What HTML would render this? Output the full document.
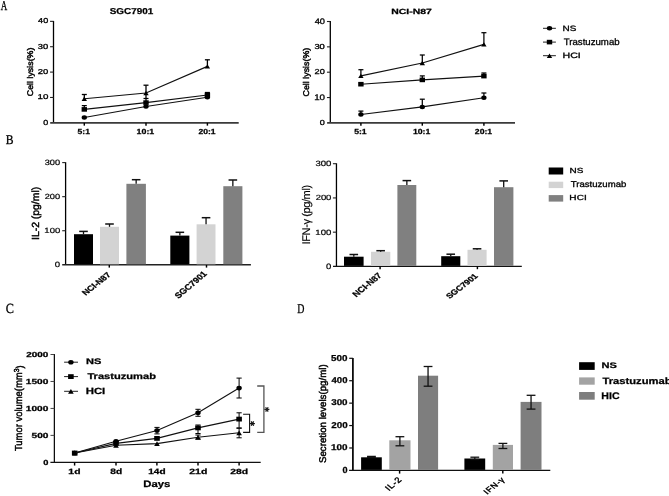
<!DOCTYPE html>
<html><head><meta charset="utf-8"><title>Figure</title><style>
html,body{margin:0;padding:0;background:#fff;}
svg{display:block;filter:grayscale(1);}
text{text-rendering:geometricPrecision;}
.ss{font-family:"Liberation Sans", sans-serif;}
.sr{font-family:"Liberation Serif", serif;}
</style></head><body>
<svg width="669" height="496" viewBox="0 0 669 496">
<rect x="0" y="0" width="669" height="496" fill="#fff"/>
<line x1="53.50" y1="20.95" x2="53.50" y2="122.85" stroke="#000" stroke-width="1.3"/>
<line x1="50.05" y1="21.35" x2="53.50" y2="21.35" stroke="#222" stroke-width="1.1"/>
<line x1="50.05" y1="46.72" x2="53.50" y2="46.72" stroke="#222" stroke-width="1.1"/>
<line x1="50.05" y1="72.10" x2="53.50" y2="72.10" stroke="#222" stroke-width="1.1"/>
<line x1="50.05" y1="97.47" x2="53.50" y2="97.47" stroke="#222" stroke-width="1.1"/>
<line x1="50.20" y1="122.85" x2="238.70" y2="122.85" stroke="#3a3a3a" stroke-width="1.6"/>
<line x1="84.30" y1="122.85" x2="84.30" y2="125.65" stroke="#000" stroke-width="1.45"/>
<line x1="146.00" y1="122.85" x2="146.00" y2="125.65" stroke="#000" stroke-width="1.45"/>
<line x1="207.40" y1="122.85" x2="207.40" y2="125.65" stroke="#000" stroke-width="1.45"/>
<path d="M84.30,117.45 L146.00,106.50 L207.40,97.20" fill="none" stroke="#111" stroke-width="1.15"/>
<ellipse cx="84.30" cy="117.45" rx="2.65" ry="2.25" fill="#000"/>
<ellipse cx="146.00" cy="106.50" rx="2.65" ry="2.25" fill="#000"/>
<ellipse cx="207.40" cy="97.20" rx="2.65" ry="2.25" fill="#000"/>
<path d="M84.30,109.40 L146.00,102.60 L207.40,95.00" fill="none" stroke="#111" stroke-width="1.15"/>
<line x1="84.30" y1="109.40" x2="84.30" y2="105.60" stroke="#000" stroke-width="1.25"/>
<line x1="81.80" y1="105.60" x2="86.80" y2="105.60" stroke="#000" stroke-width="1.25"/>
<line x1="146.00" y1="102.60" x2="146.00" y2="98.50" stroke="#000" stroke-width="1.25"/>
<line x1="143.50" y1="98.50" x2="148.50" y2="98.50" stroke="#000" stroke-width="1.25"/>
<line x1="207.40" y1="95.00" x2="207.40" y2="92.50" stroke="#000" stroke-width="1.25"/>
<line x1="204.90" y1="92.50" x2="209.90" y2="92.50" stroke="#000" stroke-width="1.25"/>
<rect x="81.60" y="107.10" width="5.40" height="4.60" fill="#000"/>
<rect x="143.30" y="100.30" width="5.40" height="4.60" fill="#000"/>
<rect x="204.70" y="92.70" width="5.40" height="4.60" fill="#000"/>
<line x1="146.00" y1="93.00" x2="146.00" y2="98.60" stroke="#000" stroke-width="1.3"/>
<path d="M84.30,98.80 L146.00,93.00 L207.40,66.40" fill="none" stroke="#111" stroke-width="1.15"/>
<line x1="84.30" y1="98.80" x2="84.30" y2="94.50" stroke="#000" stroke-width="1.3"/>
<line x1="81.80" y1="94.50" x2="86.80" y2="94.50" stroke="#000" stroke-width="1.3"/>
<line x1="146.00" y1="93.00" x2="146.00" y2="85.20" stroke="#000" stroke-width="1.3"/>
<line x1="143.50" y1="85.20" x2="148.50" y2="85.20" stroke="#000" stroke-width="1.3"/>
<line x1="207.40" y1="66.40" x2="207.40" y2="59.80" stroke="#000" stroke-width="1.3"/>
<line x1="204.90" y1="59.80" x2="209.90" y2="59.80" stroke="#000" stroke-width="1.3"/>
<path d="M81.60,101.00 L87.00,101.00 L84.30,96.60 Z" fill="#000"/>
<path d="M143.30,95.20 L148.70,95.20 L146.00,90.80 Z" fill="#000"/>
<path d="M204.70,68.60 L210.10,68.60 L207.40,64.20 Z" fill="#000"/>
<line x1="330.30" y1="21.10" x2="330.30" y2="122.90" stroke="#000" stroke-width="1.3"/>
<line x1="326.95" y1="21.50" x2="330.30" y2="21.50" stroke="#222" stroke-width="1.1"/>
<line x1="326.95" y1="46.85" x2="330.30" y2="46.85" stroke="#222" stroke-width="1.1"/>
<line x1="326.95" y1="72.20" x2="330.30" y2="72.20" stroke="#222" stroke-width="1.1"/>
<line x1="326.95" y1="97.55" x2="330.30" y2="97.55" stroke="#222" stroke-width="1.1"/>
<line x1="327.10" y1="122.90" x2="515.00" y2="122.90" stroke="#3a3a3a" stroke-width="1.6"/>
<line x1="360.90" y1="122.90" x2="360.90" y2="125.70" stroke="#000" stroke-width="1.45"/>
<line x1="422.30" y1="122.90" x2="422.30" y2="125.70" stroke="#000" stroke-width="1.45"/>
<line x1="483.90" y1="122.90" x2="483.90" y2="125.70" stroke="#000" stroke-width="1.45"/>
<path d="M360.90,114.50 L422.30,106.90 L483.90,97.80" fill="none" stroke="#111" stroke-width="1.15"/>
<line x1="360.90" y1="114.50" x2="360.90" y2="111.10" stroke="#000" stroke-width="1.25"/>
<line x1="358.40" y1="111.10" x2="363.40" y2="111.10" stroke="#000" stroke-width="1.25"/>
<line x1="422.30" y1="106.90" x2="422.30" y2="99.20" stroke="#000" stroke-width="1.25"/>
<line x1="419.80" y1="99.20" x2="424.80" y2="99.20" stroke="#000" stroke-width="1.25"/>
<line x1="483.90" y1="97.80" x2="483.90" y2="93.00" stroke="#000" stroke-width="1.25"/>
<line x1="481.40" y1="93.00" x2="486.40" y2="93.00" stroke="#000" stroke-width="1.25"/>
<ellipse cx="360.90" cy="114.50" rx="2.65" ry="2.25" fill="#000"/>
<ellipse cx="422.30" cy="106.90" rx="2.65" ry="2.25" fill="#000"/>
<ellipse cx="483.90" cy="97.80" rx="2.65" ry="2.25" fill="#000"/>
<path d="M360.90,84.20 L422.30,79.90 L483.90,76.10" fill="none" stroke="#111" stroke-width="1.15"/>
<line x1="422.30" y1="79.90" x2="422.30" y2="75.90" stroke="#000" stroke-width="1.25"/>
<line x1="419.80" y1="75.90" x2="424.80" y2="75.90" stroke="#000" stroke-width="1.25"/>
<line x1="483.90" y1="76.10" x2="483.90" y2="73.00" stroke="#000" stroke-width="1.25"/>
<line x1="481.40" y1="73.00" x2="486.40" y2="73.00" stroke="#000" stroke-width="1.25"/>
<rect x="358.20" y="81.90" width="5.40" height="4.60" fill="#000"/>
<rect x="419.60" y="77.60" width="5.40" height="4.60" fill="#000"/>
<rect x="481.20" y="73.80" width="5.40" height="4.60" fill="#000"/>
<path d="M360.90,75.90 L422.30,63.00 L483.90,44.40" fill="none" stroke="#111" stroke-width="1.15"/>
<line x1="360.90" y1="75.90" x2="360.90" y2="69.70" stroke="#000" stroke-width="1.25"/>
<line x1="358.40" y1="69.70" x2="363.40" y2="69.70" stroke="#000" stroke-width="1.25"/>
<line x1="422.30" y1="63.00" x2="422.30" y2="55.00" stroke="#000" stroke-width="1.25"/>
<line x1="419.80" y1="55.00" x2="424.80" y2="55.00" stroke="#000" stroke-width="1.25"/>
<line x1="483.90" y1="44.40" x2="483.90" y2="32.70" stroke="#000" stroke-width="1.25"/>
<line x1="481.40" y1="32.70" x2="486.40" y2="32.70" stroke="#000" stroke-width="1.25"/>
<path d="M358.20,78.10 L363.60,78.10 L360.90,73.70 Z" fill="#000"/>
<path d="M419.60,65.20 L425.00,65.20 L422.30,60.80 Z" fill="#000"/>
<path d="M481.20,46.60 L486.60,46.60 L483.90,42.20 Z" fill="#000"/>
<line x1="543.00" y1="28.30" x2="555.90" y2="28.30" stroke="#222" stroke-width="1.0"/>
<ellipse cx="549.50" cy="28.30" rx="2.65" ry="2.25" fill="#000"/>
<line x1="543.00" y1="42.10" x2="555.90" y2="42.10" stroke="#222" stroke-width="1.0"/>
<rect x="546.80" y="39.80" width="5.40" height="4.60" fill="#000"/>
<line x1="543.00" y1="55.70" x2="555.90" y2="55.70" stroke="#222" stroke-width="1.0"/>
<path d="M546.80,57.90 L552.20,57.90 L549.50,53.50 Z" fill="#000"/>
<line x1="65.60" y1="162.20" x2="65.60" y2="264.80" stroke="#000" stroke-width="1.3"/>
<line x1="62.20" y1="162.60" x2="65.60" y2="162.60" stroke="#222" stroke-width="1.1"/>
<line x1="62.20" y1="196.67" x2="65.60" y2="196.67" stroke="#222" stroke-width="1.1"/>
<line x1="62.20" y1="230.73" x2="65.60" y2="230.73" stroke="#222" stroke-width="1.1"/>
<line x1="62.20" y1="264.80" x2="250.90" y2="264.80" stroke="#222" stroke-width="1.5"/>
<line x1="109.30" y1="264.80" x2="109.30" y2="267.60" stroke="#000" stroke-width="1.45"/>
<line x1="206.50" y1="264.80" x2="206.50" y2="267.60" stroke="#000" stroke-width="1.45"/>
<rect x="74.00" y="234.20" width="19.00" height="30.10" fill="#000"/>
<line x1="83.50" y1="234.20" x2="83.50" y2="231.40" stroke="#111" stroke-width="1.3"/>
<line x1="79.20" y1="231.40" x2="87.80" y2="231.40" stroke="#111" stroke-width="1.5"/>
<rect x="100.00" y="226.80" width="19.00" height="37.50" fill="#d3d3d3"/>
<line x1="109.50" y1="226.80" x2="109.50" y2="224.00" stroke="#111" stroke-width="1.3"/>
<line x1="105.20" y1="224.00" x2="113.80" y2="224.00" stroke="#111" stroke-width="1.5"/>
<rect x="126.40" y="183.80" width="19.50" height="80.50" fill="#808080"/>
<line x1="136.15" y1="183.80" x2="136.15" y2="179.70" stroke="#111" stroke-width="1.3"/>
<line x1="131.85" y1="179.70" x2="140.45" y2="179.70" stroke="#111" stroke-width="1.5"/>
<rect x="170.30" y="235.60" width="19.10" height="28.70" fill="#000"/>
<line x1="179.85" y1="235.60" x2="179.85" y2="232.30" stroke="#111" stroke-width="1.3"/>
<line x1="175.55" y1="232.30" x2="184.15" y2="232.30" stroke="#111" stroke-width="1.5"/>
<rect x="196.60" y="224.30" width="18.90" height="40.00" fill="#d3d3d3"/>
<line x1="206.05" y1="224.30" x2="206.05" y2="217.70" stroke="#111" stroke-width="1.3"/>
<line x1="201.75" y1="217.70" x2="210.35" y2="217.70" stroke="#111" stroke-width="1.5"/>
<rect x="223.30" y="186.20" width="19.10" height="78.10" fill="#808080"/>
<line x1="232.85" y1="186.20" x2="232.85" y2="180.00" stroke="#111" stroke-width="1.3"/>
<line x1="228.55" y1="180.00" x2="237.15" y2="180.00" stroke="#111" stroke-width="1.5"/>
<line x1="336.45" y1="163.30" x2="336.45" y2="266.40" stroke="#000" stroke-width="1.3"/>
<line x1="332.90" y1="163.70" x2="336.45" y2="163.70" stroke="#222" stroke-width="1.1"/>
<line x1="332.90" y1="197.93" x2="336.45" y2="197.93" stroke="#222" stroke-width="1.1"/>
<line x1="332.90" y1="232.17" x2="336.45" y2="232.17" stroke="#222" stroke-width="1.1"/>
<line x1="333.00" y1="266.40" x2="521.80" y2="266.40" stroke="#111" stroke-width="1.3"/>
<line x1="380.10" y1="266.40" x2="380.10" y2="269.20" stroke="#000" stroke-width="1.45"/>
<line x1="477.40" y1="266.40" x2="477.40" y2="269.20" stroke="#000" stroke-width="1.45"/>
<rect x="344.00" y="256.70" width="19.60" height="9.20" fill="#000"/>
<line x1="353.80" y1="256.70" x2="353.80" y2="254.50" stroke="#111" stroke-width="1.3"/>
<line x1="349.50" y1="254.50" x2="358.10" y2="254.50" stroke="#111" stroke-width="1.5"/>
<rect x="371.00" y="251.80" width="19.30" height="14.10" fill="#d3d3d3"/>
<line x1="380.65" y1="251.80" x2="380.65" y2="250.70" stroke="#111" stroke-width="1.3"/>
<line x1="376.35" y1="250.70" x2="384.95" y2="250.70" stroke="#111" stroke-width="1.5"/>
<rect x="397.40" y="185.00" width="18.90" height="80.90" fill="#808080"/>
<line x1="406.85" y1="185.00" x2="406.85" y2="180.60" stroke="#111" stroke-width="1.3"/>
<line x1="402.55" y1="180.60" x2="411.15" y2="180.60" stroke="#111" stroke-width="1.5"/>
<rect x="441.20" y="256.20" width="19.10" height="9.70" fill="#000"/>
<line x1="450.75" y1="256.20" x2="450.75" y2="254.20" stroke="#111" stroke-width="1.3"/>
<line x1="446.45" y1="254.20" x2="455.05" y2="254.20" stroke="#111" stroke-width="1.5"/>
<rect x="467.50" y="249.80" width="19.10" height="16.10" fill="#d3d3d3"/>
<line x1="477.05" y1="249.80" x2="477.05" y2="248.80" stroke="#111" stroke-width="1.3"/>
<line x1="472.75" y1="248.80" x2="481.35" y2="248.80" stroke="#111" stroke-width="1.5"/>
<rect x="494.00" y="187.20" width="19.40" height="78.70" fill="#808080"/>
<line x1="503.70" y1="187.20" x2="503.70" y2="180.90" stroke="#111" stroke-width="1.3"/>
<line x1="499.40" y1="180.90" x2="508.00" y2="180.90" stroke="#111" stroke-width="1.5"/>
<rect x="548.70" y="167.50" width="14.50" height="7.00" fill="#000"/>
<rect x="548.70" y="181.70" width="14.50" height="6.40" fill="#d3d3d3"/>
<rect x="548.70" y="195.10" width="14.50" height="6.50" fill="#808080"/>
<line x1="54.35" y1="354.10" x2="54.35" y2="462.35" stroke="#000" stroke-width="1.2"/>
<line x1="50.50" y1="354.50" x2="54.35" y2="354.50" stroke="#444" stroke-width="1.0"/>
<line x1="50.50" y1="381.46" x2="54.35" y2="381.46" stroke="#444" stroke-width="1.0"/>
<line x1="50.50" y1="408.43" x2="54.35" y2="408.43" stroke="#444" stroke-width="1.0"/>
<line x1="50.50" y1="435.39" x2="54.35" y2="435.39" stroke="#444" stroke-width="1.0"/>
<line x1="50.40" y1="462.35" x2="260.70" y2="462.35" stroke="#111" stroke-width="1.2"/>
<line x1="74.60" y1="462.35" x2="74.60" y2="465.55" stroke="#000" stroke-width="1.45"/>
<line x1="116.00" y1="462.35" x2="116.00" y2="465.55" stroke="#000" stroke-width="1.45"/>
<line x1="156.90" y1="462.35" x2="156.90" y2="465.55" stroke="#000" stroke-width="1.45"/>
<line x1="198.00" y1="462.35" x2="198.00" y2="465.55" stroke="#000" stroke-width="1.45"/>
<line x1="239.10" y1="462.35" x2="239.10" y2="465.55" stroke="#000" stroke-width="1.45"/>
<path d="M74.70,453.00 L116.00,441.30 L157.00,430.50 L198.00,412.80 L239.10,388.10" fill="none" stroke="#111" stroke-width="1.15"/>
<line x1="157.00" y1="427.40" x2="157.00" y2="433.90" stroke="#000" stroke-width="1.0"/>
<line x1="154.40" y1="427.40" x2="159.60" y2="427.40" stroke="#000" stroke-width="1.0"/>
<line x1="154.40" y1="433.90" x2="159.60" y2="433.90" stroke="#000" stroke-width="1.0"/>
<line x1="198.00" y1="409.30" x2="198.00" y2="416.30" stroke="#000" stroke-width="1.0"/>
<line x1="195.40" y1="409.30" x2="200.60" y2="409.30" stroke="#000" stroke-width="1.0"/>
<line x1="195.40" y1="416.30" x2="200.60" y2="416.30" stroke="#000" stroke-width="1.0"/>
<line x1="239.10" y1="378.10" x2="239.10" y2="398.00" stroke="#000" stroke-width="1.0"/>
<line x1="236.50" y1="378.10" x2="241.70" y2="378.10" stroke="#000" stroke-width="1.0"/>
<line x1="236.50" y1="398.00" x2="241.70" y2="398.00" stroke="#000" stroke-width="1.0"/>
<ellipse cx="74.70" cy="453.00" rx="2.70" ry="2.30" fill="#000"/>
<ellipse cx="116.00" cy="441.30" rx="2.70" ry="2.30" fill="#000"/>
<ellipse cx="157.00" cy="430.50" rx="2.70" ry="2.30" fill="#000"/>
<ellipse cx="198.00" cy="412.80" rx="2.70" ry="2.30" fill="#000"/>
<ellipse cx="239.10" cy="388.10" rx="2.70" ry="2.30" fill="#000"/>
<path d="M74.70,453.00 L116.00,443.40 L157.00,438.40 L198.00,427.90 L239.10,419.10" fill="none" stroke="#111" stroke-width="1.15"/>
<line x1="198.00" y1="425.00" x2="198.00" y2="433.50" stroke="#000" stroke-width="1.0"/>
<line x1="195.40" y1="425.00" x2="200.60" y2="425.00" stroke="#000" stroke-width="1.0"/>
<line x1="195.40" y1="433.50" x2="200.60" y2="433.50" stroke="#000" stroke-width="1.0"/>
<line x1="239.10" y1="412.80" x2="239.10" y2="427.90" stroke="#000" stroke-width="1.0"/>
<line x1="236.50" y1="412.80" x2="241.70" y2="412.80" stroke="#000" stroke-width="1.0"/>
<line x1="236.50" y1="427.90" x2="241.70" y2="427.90" stroke="#000" stroke-width="1.0"/>
<rect x="71.90" y="450.60" width="5.60" height="4.80" fill="#000"/>
<rect x="113.20" y="441.00" width="5.60" height="4.80" fill="#000"/>
<rect x="154.20" y="436.00" width="5.60" height="4.80" fill="#000"/>
<rect x="195.20" y="425.50" width="5.60" height="4.80" fill="#000"/>
<rect x="236.30" y="416.70" width="5.60" height="4.80" fill="#000"/>
<path d="M74.70,453.00 L116.00,445.30 L157.00,443.60 L198.00,437.30 L239.10,432.80" fill="none" stroke="#111" stroke-width="1.15"/>
<line x1="198.00" y1="435.00" x2="198.00" y2="439.00" stroke="#000" stroke-width="1.0"/>
<line x1="195.40" y1="435.00" x2="200.60" y2="435.00" stroke="#000" stroke-width="1.0"/>
<line x1="195.40" y1="439.00" x2="200.60" y2="439.00" stroke="#000" stroke-width="1.0"/>
<line x1="239.10" y1="428.30" x2="239.10" y2="437.80" stroke="#000" stroke-width="1.0"/>
<line x1="236.50" y1="428.30" x2="241.70" y2="428.30" stroke="#000" stroke-width="1.0"/>
<line x1="236.50" y1="437.80" x2="241.70" y2="437.80" stroke="#000" stroke-width="1.0"/>
<path d="M71.90,455.40 L77.50,455.40 L74.70,450.60 Z" fill="#000"/>
<path d="M113.20,447.70 L118.80,447.70 L116.00,442.90 Z" fill="#000"/>
<path d="M154.20,446.00 L159.80,446.00 L157.00,441.20 Z" fill="#000"/>
<path d="M195.20,439.70 L200.80,439.70 L198.00,434.90 Z" fill="#000"/>
<path d="M236.30,435.20 L241.90,435.20 L239.10,430.40 Z" fill="#000"/>
<line x1="64.10" y1="362.20" x2="78.00" y2="362.20" stroke="#222" stroke-width="1.0"/>
<ellipse cx="70.90" cy="362.20" rx="2.70" ry="2.30" fill="#000"/>
<line x1="64.10" y1="376.60" x2="78.00" y2="376.60" stroke="#222" stroke-width="1.0"/>
<rect x="68.10" y="374.20" width="5.60" height="4.80" fill="#000"/>
<line x1="64.10" y1="391.30" x2="78.00" y2="391.30" stroke="#222" stroke-width="1.0"/>
<path d="M68.10,393.70 L73.70,393.70 L70.90,388.90 Z" fill="#000"/>
<path d="M257.2,386.0 H263.9 V432.4 H257.2" fill="none" stroke="#555" stroke-width="1.3"/>
<path d="M243.1,414.3 H249.6 V432.4 H243.1" fill="none" stroke="#111" stroke-width="1.1"/>
<line x1="264.40" y1="409.40" x2="269.40" y2="409.40" stroke="#222" stroke-width="1.25"/>
<line x1="265.65" y1="407.23" x2="268.15" y2="411.57" stroke="#222" stroke-width="1.25"/>
<line x1="268.15" y1="407.23" x2="265.65" y2="411.57" stroke="#222" stroke-width="1.25"/>
<line x1="249.90" y1="423.60" x2="254.90" y2="423.60" stroke="#111" stroke-width="1.25"/>
<line x1="251.15" y1="421.43" x2="253.65" y2="425.77" stroke="#111" stroke-width="1.25"/>
<line x1="253.65" y1="421.43" x2="251.15" y2="425.77" stroke="#111" stroke-width="1.25"/>
<line x1="352.90" y1="357.90" x2="352.90" y2="470.40" stroke="#000" stroke-width="1.7"/>
<line x1="349.20" y1="358.30" x2="352.90" y2="358.30" stroke="#111" stroke-width="1.2"/>
<line x1="349.20" y1="380.72" x2="352.90" y2="380.72" stroke="#111" stroke-width="1.2"/>
<line x1="349.20" y1="403.14" x2="352.90" y2="403.14" stroke="#111" stroke-width="1.2"/>
<line x1="349.20" y1="425.56" x2="352.90" y2="425.56" stroke="#111" stroke-width="1.2"/>
<line x1="349.20" y1="447.98" x2="352.90" y2="447.98" stroke="#111" stroke-width="1.2"/>
<line x1="349.10" y1="470.40" x2="550.30" y2="470.40" stroke="#111" stroke-width="1.3"/>
<line x1="399.60" y1="470.40" x2="399.60" y2="473.60" stroke="#000" stroke-width="1.45"/>
<line x1="502.80" y1="470.40" x2="502.80" y2="473.60" stroke="#000" stroke-width="1.45"/>
<rect x="361.10" y="457.30" width="20.70" height="12.60" fill="#000"/>
<line x1="371.45" y1="456.40" x2="371.45" y2="457.60" stroke="#111" stroke-width="1.3"/>
<line x1="367.05" y1="456.40" x2="375.85" y2="456.40" stroke="#111" stroke-width="1.3"/>
<line x1="367.05" y1="457.60" x2="375.85" y2="457.60" stroke="#111" stroke-width="1.3"/>
<rect x="389.30" y="440.30" width="21.20" height="29.60" fill="#a3a3a3"/>
<line x1="399.90" y1="436.70" x2="399.90" y2="445.80" stroke="#111" stroke-width="1.3"/>
<line x1="395.50" y1="436.70" x2="404.30" y2="436.70" stroke="#111" stroke-width="1.3"/>
<line x1="395.50" y1="445.80" x2="404.30" y2="445.80" stroke="#111" stroke-width="1.3"/>
<rect x="418.00" y="375.70" width="20.10" height="94.20" fill="#7e7e7e"/>
<line x1="428.05" y1="366.50" x2="428.05" y2="386.20" stroke="#111" stroke-width="1.3"/>
<line x1="423.65" y1="366.50" x2="432.45" y2="366.50" stroke="#111" stroke-width="1.3"/>
<line x1="423.65" y1="386.20" x2="432.45" y2="386.20" stroke="#111" stroke-width="1.3"/>
<rect x="464.40" y="458.50" width="20.80" height="11.40" fill="#000"/>
<line x1="474.80" y1="457.20" x2="474.80" y2="459.50" stroke="#111" stroke-width="1.3"/>
<line x1="470.40" y1="457.20" x2="479.20" y2="457.20" stroke="#111" stroke-width="1.3"/>
<line x1="470.40" y1="459.50" x2="479.20" y2="459.50" stroke="#111" stroke-width="1.3"/>
<rect x="492.80" y="444.90" width="20.20" height="25.00" fill="#a3a3a3"/>
<line x1="502.90" y1="443.40" x2="502.90" y2="448.50" stroke="#111" stroke-width="1.3"/>
<line x1="498.50" y1="443.40" x2="507.30" y2="443.40" stroke="#111" stroke-width="1.3"/>
<line x1="498.50" y1="448.50" x2="507.30" y2="448.50" stroke="#111" stroke-width="1.3"/>
<rect x="520.60" y="401.90" width="20.90" height="68.00" fill="#7e7e7e"/>
<line x1="531.05" y1="395.30" x2="531.05" y2="409.10" stroke="#111" stroke-width="1.3"/>
<line x1="526.65" y1="395.30" x2="535.45" y2="395.30" stroke="#111" stroke-width="1.3"/>
<line x1="526.65" y1="409.10" x2="535.45" y2="409.10" stroke="#111" stroke-width="1.3"/>
<rect x="579.10" y="362.20" width="15.60" height="7.70" fill="#000"/>
<rect x="579.10" y="377.40" width="15.60" height="7.30" fill="#a3a3a3"/>
<rect x="579.10" y="392.00" width="15.60" height="7.70" fill="#7e7e7e"/>
<text class="sr" x="0.780" y="10.050" font-size="13.491" stroke="#000" stroke-width="0.3" textLength="6.495" lengthAdjust="spacingAndGlyphs">A</text>
<text class="sr" x="5.730" y="143.900" font-size="13.265" stroke="#000" stroke-width="0.3" textLength="7.794" lengthAdjust="spacingAndGlyphs">B</text>
<text class="sr" x="5.730" y="312.990" font-size="13.952" stroke="#000" stroke-width="0.3" textLength="8.171" lengthAdjust="spacingAndGlyphs">C</text>
<text class="sr" x="297.350" y="312.950" font-size="13.323" stroke="#000" stroke-width="0.3" textLength="7.175" lengthAdjust="spacingAndGlyphs">D</text>
<text class="ss" x="109.720" y="14.050" font-size="8.552" font-weight="bold" stroke="#000" stroke-width="0.25" textLength="43.509" lengthAdjust="spacingAndGlyphs">SGC7901</text>
<text class="ss" x="391.290" y="13.900" font-size="7.482" font-weight="bold" stroke="#000" stroke-width="0.25" textLength="40.568" lengthAdjust="spacingAndGlyphs">NCI-N87</text>
<text class="ss" x="38.140" y="23.330" font-size="7.194" stroke="#000" stroke-width="0.3" textLength="10.060" lengthAdjust="spacingAndGlyphs">40</text>
<text class="ss" x="37.740" y="48.600" font-size="7.254" stroke="#000" stroke-width="0.3" textLength="10.403" lengthAdjust="spacingAndGlyphs">30</text>
<text class="ss" x="37.860" y="74.450" font-size="7.010" stroke="#000" stroke-width="0.3" textLength="10.496" lengthAdjust="spacingAndGlyphs">20</text>
<text class="ss" x="37.470" y="99.135" font-size="6.973" stroke="#000" stroke-width="0.3" textLength="10.873" lengthAdjust="spacingAndGlyphs">10</text>
<text class="ss" x="43.200" y="124.750" font-size="7.368" stroke="#000" stroke-width="0.3" textLength="4.960" lengthAdjust="spacingAndGlyphs">0</text>
<text class="ss" x="314.680" y="24.090" font-size="7.913" stroke="#000" stroke-width="0.3" textLength="10.303" lengthAdjust="spacingAndGlyphs">40</text>
<text class="ss" x="314.400" y="49.320" font-size="7.262" stroke="#000" stroke-width="0.3" textLength="10.411" lengthAdjust="spacingAndGlyphs">30</text>
<text class="ss" x="314.500" y="74.480" font-size="7.159" stroke="#000" stroke-width="0.3" textLength="10.274" lengthAdjust="spacingAndGlyphs">20</text>
<text class="ss" x="314.190" y="99.840" font-size="8.000" stroke="#000" stroke-width="0.3" textLength="10.877" lengthAdjust="spacingAndGlyphs">10</text>
<text class="ss" x="319.710" y="125.060" font-size="7.242" stroke="#000" stroke-width="0.3" textLength="5.053" lengthAdjust="spacingAndGlyphs">0</text>
<text class="ss" x="44.710" y="164.920" font-size="7.617" stroke="#000" stroke-width="0.2" textLength="15.433" lengthAdjust="spacingAndGlyphs">300</text>
<text class="ss" x="44.700" y="198.940" font-size="7.486" stroke="#000" stroke-width="0.2" textLength="15.471" lengthAdjust="spacingAndGlyphs">200</text>
<text class="ss" x="44.370" y="233.000" font-size="7.516" stroke="#000" stroke-width="0.2" textLength="15.825" lengthAdjust="spacingAndGlyphs">100</text>
<text class="ss" x="54.860" y="266.940" font-size="7.694" stroke="#000" stroke-width="0.2" textLength="5.359" lengthAdjust="spacingAndGlyphs">0</text>
<text class="ss" x="315.430" y="165.650" font-size="7.651" stroke="#000" stroke-width="0.2" textLength="15.979" lengthAdjust="spacingAndGlyphs">300</text>
<text class="ss" x="315.650" y="200.257" font-size="7.539" stroke="#000" stroke-width="0.2" textLength="15.727" lengthAdjust="spacingAndGlyphs">200</text>
<text class="ss" x="315.370" y="234.733" font-size="7.678" stroke="#000" stroke-width="0.2" textLength="15.997" lengthAdjust="spacingAndGlyphs">100</text>
<text class="ss" x="326.000" y="268.680" font-size="7.822" stroke="#000" stroke-width="0.2" textLength="5.299" lengthAdjust="spacingAndGlyphs">0</text>
<text class="ss" x="26.190" y="356.770" font-size="7.350" font-weight="bold" stroke="#000" stroke-width="0.25" textLength="22.126" lengthAdjust="spacingAndGlyphs">2000</text>
<text class="ss" x="25.860" y="383.832" font-size="7.316" font-weight="bold" stroke="#000" stroke-width="0.25" textLength="22.502" lengthAdjust="spacingAndGlyphs">1500</text>
<text class="ss" x="25.820" y="411.410" font-size="7.340" font-weight="bold" stroke="#000" stroke-width="0.25" textLength="22.481" lengthAdjust="spacingAndGlyphs">1000</text>
<text class="ss" x="31.580" y="438.210" font-size="7.381" font-weight="bold" stroke="#000" stroke-width="0.25" textLength="16.926" lengthAdjust="spacingAndGlyphs">500</text>
<text class="ss" x="43.320" y="464.960" font-size="7.392" font-weight="bold" stroke="#000" stroke-width="0.25" textLength="5.176" lengthAdjust="spacingAndGlyphs">0</text>
<text class="ss" x="331.130" y="360.590" font-size="8.585" font-weight="bold" stroke="#000" stroke-width="0.25" textLength="16.477" lengthAdjust="spacingAndGlyphs">500</text>
<text class="ss" x="331.520" y="382.780" font-size="8.526" font-weight="bold" stroke="#000" stroke-width="0.25" textLength="15.945" lengthAdjust="spacingAndGlyphs">400</text>
<text class="ss" x="331.200" y="405.140" font-size="8.371" font-weight="bold" stroke="#000" stroke-width="0.25" textLength="16.378" lengthAdjust="spacingAndGlyphs">300</text>
<text class="ss" x="331.390" y="427.730" font-size="8.498" font-weight="bold" stroke="#000" stroke-width="0.25" textLength="16.356" lengthAdjust="spacingAndGlyphs">200</text>
<text class="ss" x="331.060" y="450.220" font-size="8.373" font-weight="bold" stroke="#000" stroke-width="0.25" textLength="16.518" lengthAdjust="spacingAndGlyphs">100</text>
<text class="ss" x="342.410" y="473.130" font-size="8.856" font-weight="bold" stroke="#000" stroke-width="0.25" textLength="5.042" lengthAdjust="spacingAndGlyphs">0</text>
<text class="ss" x="77.620" y="134.220" font-size="7.424" font-weight="bold" stroke="#000" stroke-width="0.25" textLength="12.389" lengthAdjust="spacingAndGlyphs">5:1</text>
<text class="ss" x="136.590" y="133.760" font-size="7.403" font-weight="bold" stroke="#000" stroke-width="0.25" textLength="17.666" lengthAdjust="spacingAndGlyphs">10:1</text>
<text class="ss" x="198.500" y="134.400" font-size="7.304" font-weight="bold" stroke="#000" stroke-width="0.25" textLength="17.113" lengthAdjust="spacingAndGlyphs">20:1</text>
<text class="ss" x="354.150" y="134.150" font-size="7.386" font-weight="bold" stroke="#000" stroke-width="0.25" textLength="12.529" lengthAdjust="spacingAndGlyphs">5:1</text>
<text class="ss" x="412.960" y="133.810" font-size="7.379" font-weight="bold" stroke="#000" stroke-width="0.25" textLength="17.364" lengthAdjust="spacingAndGlyphs">10:1</text>
<text class="ss" x="474.870" y="134.110" font-size="7.362" font-weight="bold" stroke="#000" stroke-width="0.25" textLength="17.264" lengthAdjust="spacingAndGlyphs">20:1</text>
<text class="ss" x="562.480" y="30.750" font-size="7.734" stroke="#000" stroke-width="0.3" textLength="13.813" lengthAdjust="spacingAndGlyphs">NS</text>
<text class="ss" x="563.810" y="44.850" font-size="9.367" stroke="#000" stroke-width="0.3" textLength="55.798" lengthAdjust="spacingAndGlyphs">Trastuzumab</text>
<text class="ss" x="562.570" y="58.260" font-size="7.811" stroke="#000" stroke-width="0.3" textLength="18.264" lengthAdjust="spacingAndGlyphs">HCI</text>
<text class="ss" x="569.480" y="172.750" font-size="7.412" stroke="#000" stroke-width="0.3" textLength="13.786" lengthAdjust="spacingAndGlyphs">NS</text>
<text class="ss" x="570.750" y="186.950" font-size="8.366" stroke="#000" stroke-width="0.3" textLength="55.580" lengthAdjust="spacingAndGlyphs">Trastuzumab</text>
<text class="ss" x="569.360" y="200.250" font-size="7.357" stroke="#000" stroke-width="0.3" textLength="17.362" lengthAdjust="spacingAndGlyphs">HCI</text>
<text class="ss" x="86.100" y="364.250" font-size="8.117" font-weight="bold" stroke="#000" stroke-width="0.25" textLength="15.312" lengthAdjust="spacingAndGlyphs">NS</text>
<text class="ss" x="87.400" y="379.150" font-size="8.409" font-weight="bold" stroke="#000" stroke-width="0.25" textLength="68.562" lengthAdjust="spacingAndGlyphs">Trastuzumab</text>
<text class="ss" x="85.670" y="393.800" font-size="8.952" font-weight="bold" stroke="#000" stroke-width="0.25" textLength="19.651" lengthAdjust="spacingAndGlyphs">HCI</text>
<text class="ss" x="601.450" y="367.750" font-size="8.031" font-weight="bold" stroke="#000" stroke-width="0.25" textLength="15.400" lengthAdjust="spacingAndGlyphs">NS</text>
<text class="ss" x="602.460" y="383.700" font-size="9.194" font-weight="bold" stroke="#000" stroke-width="0.25" textLength="69.045" lengthAdjust="spacingAndGlyphs">Trastuzumab</text>
<text class="ss" x="601.340" y="398.900" font-size="9.550" font-weight="bold" stroke="#000" stroke-width="0.25" textLength="18.258" lengthAdjust="spacingAndGlyphs">HIC</text>
<text class="ss" x="68.380" y="474.020" font-size="7.492" font-weight="bold" stroke="#000" stroke-width="0.25" textLength="12.093" lengthAdjust="spacingAndGlyphs">1d</text>
<text class="ss" x="110.350" y="473.860" font-size="7.813" font-weight="bold" stroke="#000" stroke-width="0.25" textLength="11.868" lengthAdjust="spacingAndGlyphs">8d</text>
<text class="ss" x="148.270" y="474.090" font-size="7.808" font-weight="bold" stroke="#000" stroke-width="0.25" textLength="17.287" lengthAdjust="spacingAndGlyphs">14d</text>
<text class="ss" x="189.310" y="473.570" font-size="7.708" font-weight="bold" stroke="#000" stroke-width="0.25" textLength="18.054" lengthAdjust="spacingAndGlyphs">21d</text>
<text class="ss" x="230.320" y="473.550" font-size="7.516" font-weight="bold" stroke="#000" stroke-width="0.25" textLength="17.844" lengthAdjust="spacingAndGlyphs">28d</text>
<text class="ss" x="143.370" y="487.010" font-size="9.310" font-weight="bold" stroke="#000" stroke-width="0.25" textLength="27.050" lengthAdjust="spacingAndGlyphs">Days</text>
<text class="ss" transform="translate(32.715,96.160) rotate(-90)" font-size="8.274" stroke="#000" stroke-width="0.45" textLength="48.520" lengthAdjust="spacingAndGlyphs">Cell lysis(%)</text>
<text class="ss" transform="translate(309.003,96.470) rotate(-90)" font-size="8.400" stroke="#000" stroke-width="0.45" textLength="48.727" lengthAdjust="spacingAndGlyphs">Cell lysis(%)</text>
<text class="ss" transform="translate(38.893,239.940) rotate(-90)" font-size="10.294" stroke="#000" stroke-width="0.45" textLength="53.117" lengthAdjust="spacingAndGlyphs">IL-2 (pg/ml)</text>
<text class="ss" transform="translate(310.027,244.440) rotate(-90)" font-size="11.147" stroke="#000" stroke-width="0.15" textLength="59.674" lengthAdjust="spacing">IFN-γ (pg/ml)</text>
<text class="ss" transform="translate(21.620,451.080) rotate(-90)" font-size="10.105" stroke="#000" stroke-width="0.45" textLength="85.693" lengthAdjust="spacingAndGlyphs">Tumor volume(mm<tspan font-size="0.72em" dy="-0.36em">3</tspan><tspan dy="0.36em">)</tspan></text>
<text class="ss" transform="translate(325.529,463.050) rotate(-90)" font-size="9.785" stroke="#000" stroke-width="0.45" textLength="98.680" lengthAdjust="spacingAndGlyphs">Secretion levels(pg/ml)</text>
<text class="ss" transform="translate(111.400,275.390) scale(1.2570,1) rotate(-45)" text-anchor="end" font-size="7.400" font-weight="bold" stroke="#000" stroke-width="0.25">NCI-N87</text>
<text class="ss" transform="translate(207.570,274.360) scale(1.1813,1) rotate(-45)" text-anchor="end" font-size="7.964" font-weight="bold" stroke="#000" stroke-width="0.25">SGC7901</text>
<text class="ss" transform="translate(382.340,276.020) scale(1.2167,1) rotate(-45)" text-anchor="end" font-size="7.790" font-weight="bold" stroke="#000" stroke-width="0.25">NCI-N87</text>
<text class="ss" transform="translate(478.480,276.680) scale(1.2812,1) rotate(-45)" text-anchor="end" font-size="7.221" font-weight="bold" stroke="#000" stroke-width="0.25">SGC7901</text>
<text class="ss" transform="translate(402.550,479.950) scale(1.2019,1) rotate(-45)" text-anchor="end" font-size="7.894" stroke="#000" stroke-width="0.4" letter-spacing="0.6">IL-2</text>
<text class="ss" transform="translate(505.510,479.930) scale(1.2301,1) rotate(-45)" text-anchor="end" font-size="7.349" stroke="#000" stroke-width="0.4" letter-spacing="0.6">IFN-γ</text>
</svg>
</body></html>
